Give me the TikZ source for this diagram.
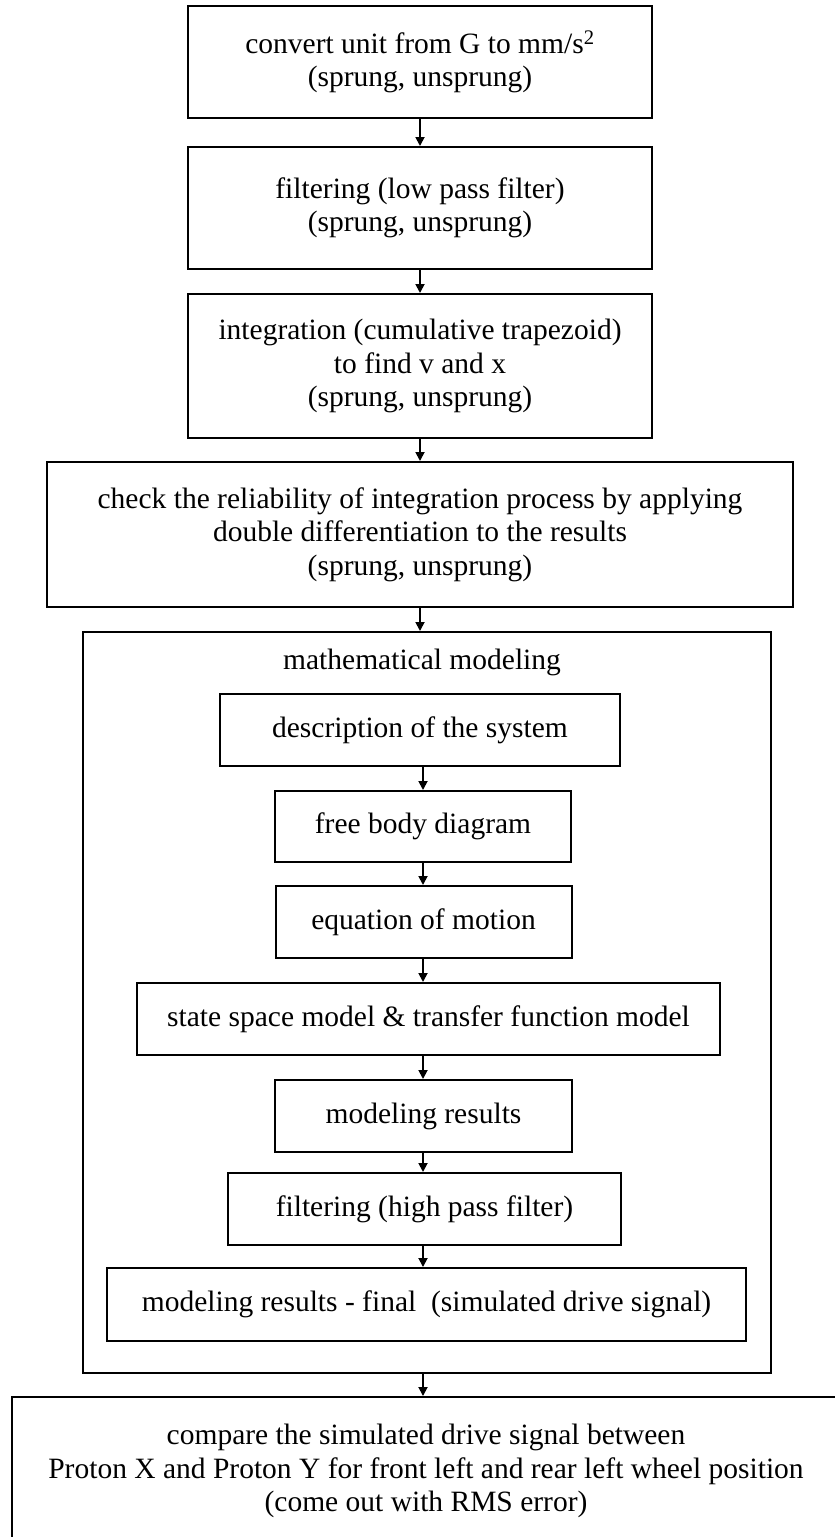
\documentclass[tikz,border=0pt]{standalone}
\usepackage{fontspec}
\setmainfont{Liberation Serif}
\usetikzlibrary{arrows.meta}
\begin{document}
\begin{tikzpicture}[x=1pt,y=-1pt,
  txt/.style={font=\fontsize{29.5}{33.5}\selectfont},
  box/.style={draw, line width=2pt, align=center, inner sep=0pt, txt},
  frame/.style={draw, line width=2pt, inner sep=0pt},
  arr/.style={line width=1.8pt, -{Triangle[length=9pt,width=9pt]}}]
\clip (0,0) rectangle (835,1537);
\fill[white] (0,0) rectangle (835,1537);

% pre-processing chain
\node[box, minimum width=464pt, minimum height=112pt] (b1) at (420,62)
  {convert unit from G to mm/s\textsuperscript{2}\\(sprung, unsprung)};
\node[box, minimum width=464pt, minimum height=122pt] (b2) at (420,208)
  {filtering (low pass filter)\\(sprung, unsprung)};
\node[box, minimum width=464pt, minimum height=144pt] (b3) at (420,366)
  {integration (cumulative trapezoid)\\to find v and x\\(sprung, unsprung)};
\node[box, minimum width=746pt, minimum height=145pt] (b4) at (420,534.5)
  {check the reliability of integration process by applying\\double differentiation to the results\\(sprung, unsprung)};

% modelling block
\node[frame, minimum width=688pt, minimum height=741pt] (outer) at (427,1002.5) {};
\node[txt, inner sep=0pt] (title) at (422,662) {mathematical modeling};
\coordinate (spine) at (423,0);

\node[box, minimum width=400pt, minimum height=72pt] (desc) at (420,730) {description of the system};
\node[box, minimum width=296pt, minimum height=71pt] (fbd) at (423,826.5) {free body diagram};
\node[box, minimum width=296pt, minimum height=72pt] (eom) at (423.5,922) {equation of motion};
\node[box, minimum width=583pt, minimum height=72pt] (ss) at (428.5,1019) {state space model \& transfer function model};
\node[box, minimum width=297pt, minimum height=72pt] (res) at (423.5,1116) {modeling results};
\node[box, minimum width=393pt, minimum height=72pt] (hpf) at (424.5,1209) {filtering (high pass filter)};
\node[box, minimum width=639pt, minimum height=73pt] (fres) at (426.5,1304.5) {modeling results - final~ (simulated drive signal)};

% comparison
\node[box, minimum width=828pt, minimum height=148pt] (cmp) at (426,1471)
  {compare the simulated drive signal between\\Proton X and Proton Y for front left and rear left wheel position\\(come out with RMS error)};

% connectors
\draw[arr] (b1.south) -- (b2.north);
\draw[arr] (b2.south) -- (b3.north);
\draw[arr] (b3.south) -- (b4.north);
\draw[arr] (b4.south) -- (b4.south |- outer.north);
\draw[arr] (desc.south -| spine) -- (fbd.north -| spine);
\draw[arr] (fbd.south -| spine) -- (eom.north -| spine);
\draw[arr] (eom.south -| spine) -- (ss.north -| spine);
\draw[arr] (ss.south -| spine) -- (res.north -| spine);
\draw[arr] (res.south -| spine) -- (hpf.north -| spine);
\draw[arr] (hpf.south -| spine) -- (fres.north -| spine);
\draw[arr] (outer.south -| spine) -- (cmp.north -| spine);
\end{tikzpicture}
\end{document}
